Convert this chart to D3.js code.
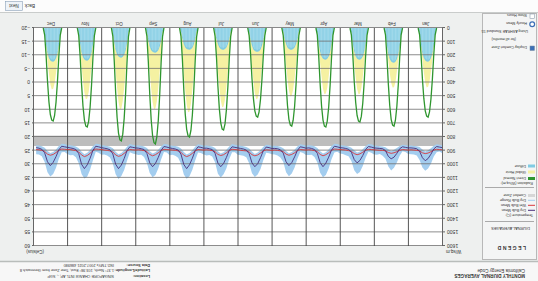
<!DOCTYPE html>
<meta charset="utf-8">
<title>Monthly diurnal averages</title>
<style>
  body { margin: 0; background: #eef0ef; }
  svg { display: block; font-family: "Liberation Sans", Arial, sans-serif; }
</style>
<div id="viz"></div>
<script src="https://cdnjs.cloudflare.com/ajax/libs/d3/7.8.5/d3.min.js"></script>
<script>

var months = ["Jan", "Feb", "Mar", "Apr", "May", "Jun", "Jul", "Aug", "Sep", "Oct", "Nov", "Dec"];

// radiation, W/sq.m, hours 6..17 (zero at 5 and 18)
var radHours = [6, 7, 8, 9, 10, 11, 12, 13, 14, 15, 16, 17];
var diffuse = [
  [37,124,185,222,240,247,245,238,220,183,122,35],
  [38,128,190,230,248,255,253,246,228,190,125,36],
  [35,117,175,210,226,233,231,225,208,173,115,33],
  [35,116,174,209,226,233,232,226,209,174,116,34],
  [24,80,120,144,155,160,159,155,143,119,79,23],
  [26,88,131,157,170,175,174,169,157,130,86,25],
  [24,80,120,144,155,160,159,155,144,120,80,23],
  [24,81,121,145,156,160,158,154,143,119,79,23],
  [27,91,136,164,176,182,180,175,163,136,90,26],
  [33,109,163,196,211,218,216,210,195,162,107,31],
  [36,120,180,216,233,240,238,232,215,179,118,34],
  [37,123,185,222,240,247,245,238,221,184,122,35]
];
var globalHoriz = [
  [40,140,230,320,395,432,436,400,325,235,140,38],
  [42,145,235,322,398,434,436,402,330,238,142,40],
  [45,160,260,360,440,482,487,445,362,262,158,42],
  [44,158,258,358,438,480,487,446,360,260,156,42],
  [46,165,268,370,452,496,502,458,372,268,162,44],
  [48,170,280,385,470,518,523,478,388,280,168,46],
  [52,190,310,430,525,576,582,530,430,312,188,50],
  [55,200,330,455,556,612,618,562,458,332,198,52],
  [54,195,320,440,537,590,596,542,442,320,192,50],
  [54,194,318,438,535,590,596,542,440,320,192,50],
  [48,172,280,385,470,518,523,476,386,280,170,46],
  [42,148,240,330,405,446,451,412,332,240,146,40]
];
var directNormal = [
  [50,196,379,523,615,654,647,608,517,373,190,48],
  [52,216,418,576,677,720,713,670,569,410,209,50],
  [55,207,400,552,649,690,683,642,545,393,200,52],
  [54,218,422,582,683,727,720,676,574,414,211,52],
  [56,216,418,576,677,720,713,670,569,410,209,54],
  [58,196,379,523,615,654,647,608,517,373,190,56],
  [62,225,434,599,704,749,742,697,592,427,217,60],
  [65,240,464,640,752,800,792,744,632,456,232,62],
  [64,255,494,681,800,851,842,791,672,485,247,60],
  [64,249,481,663,779,829,821,771,655,473,240,60],
  [58,218,422,582,683,727,720,676,574,414,211,56],
  [52,205,396,546,642,683,676,635,540,389,198,50]
];

// temperatures, Celsius, hours 1,3,...,23
var tempHours = [1, 3, 5, 7, 9, 11, 13, 15, 17, 19, 21, 23];
var dryBulbMean = [
  [23.9,23.7,23.5,24.4,26.3,27.9,28.7,27.6,25.2,24.3,24.1,24.0],
  [24.0,23.8,23.6,24.3,26.0,27.4,28.0,27.1,25.0,24.3,24.2,24.1],
  [24.0,23.7,23.5,24.6,26.8,28.6,29.5,28.3,25.6,24.5,24.2,24.0],
  [23.9,23.6,23.4,24.8,27.4,29.6,30.9,29.4,26.0,24.6,24.2,24.0],
  [24.1,23.8,23.6,24.9,27.3,29.4,30.5,29.1,25.9,24.7,24.3,24.2],
  [24.2,23.9,23.7,25.0,27.6,29.8,30.9,29.5,26.1,24.8,24.4,24.2],
  [24.0,23.8,23.6,24.9,27.5,29.7,30.9,29.6,26.0,24.6,24.3,24.1],
  [24.1,23.8,23.6,25.0,27.8,30.2,31.6,30.1,26.3,24.8,24.4,24.2],
  [24.0,23.7,23.5,24.9,27.5,29.7,30.9,29.5,26.0,24.6,24.3,24.1],
  [24.0,23.8,23.6,25.0,27.9,30.3,31.6,30.0,26.2,24.7,24.3,24.1],
  [23.9,23.6,23.4,24.9,27.8,30.2,31.6,30.0,26.1,24.6,24.2,24.0],
  [23.8,23.6,23.4,24.7,27.2,29.3,30.5,29.1,25.8,24.5,24.1,23.9]
];
var wetBulbMean = [
  [24.7,24.6,24.5,24.8,25.4,25.9,26.1,25.8,25.1,24.9,24.8,24.7],
  [24.8,24.7,24.6,24.9,25.4,25.8,26.0,25.7,25.1,24.9,24.9,24.8],
  [24.7,24.6,24.5,24.9,25.6,26.2,26.5,26.1,25.3,25.0,24.8,24.7],
  [24.6,24.5,24.4,24.9,25.8,26.5,26.9,26.4,25.4,25.0,24.8,24.7],
  [24.8,24.7,24.6,25.0,25.8,26.4,26.7,26.3,25.4,25.1,24.9,24.8],
  [24.9,24.8,24.7,25.1,25.9,26.6,26.9,26.5,25.5,25.1,25.0,24.9],
  [24.7,24.6,24.5,25.0,25.8,26.5,26.8,26.4,25.4,25.0,24.8,24.7],
  [24.8,24.7,24.6,25.1,26.0,26.8,27.2,26.7,25.6,25.1,24.9,24.8],
  [24.7,24.6,24.5,25.0,25.8,26.5,26.9,26.4,25.4,25.0,24.8,24.7],
  [24.8,24.7,24.6,25.1,26.0,26.8,27.1,26.6,25.5,25.1,24.9,24.8],
  [24.6,24.5,24.4,25.0,26.0,26.8,27.2,26.6,25.5,25.0,24.8,24.6],
  [24.6,24.5,24.4,24.9,25.7,26.4,26.7,26.3,25.3,24.9,24.7,24.6]
];
var rangeLow = [
  [23.1,22.8,22.7,23.2,24.1,24.9,25.3,24.6,23.7,23.4,23.3,23.1],
  [23.2,22.9,22.8,23.3,24.0,24.7,25.1,24.5,23.8,23.5,23.4,23.2],
  [23.0,22.7,22.6,23.4,24.5,25.3,25.7,24.9,23.9,23.5,23.2,23.1],
  [22.9,22.6,22.5,23.3,24.6,25.6,26.1,25.2,24.0,23.4,23.1,23.0],
  [23.1,22.8,22.7,23.5,24.7,25.5,26.0,25.1,24.1,23.6,23.3,23.2],
  [23.2,22.9,22.8,23.6,24.8,25.7,26.2,25.3,24.2,23.7,23.4,23.2],
  [23.0,22.8,22.6,23.5,24.7,25.6,26.1,25.2,24.0,23.5,23.3,23.1],
  [23.1,22.8,22.7,23.6,24.9,25.9,26.4,25.5,24.2,23.6,23.3,23.2],
  [23.0,22.7,22.6,23.5,24.7,25.6,26.1,25.2,24.0,23.5,23.2,23.1],
  [23.0,22.8,22.6,23.6,24.9,25.9,26.3,25.4,24.1,23.6,23.3,23.1],
  [22.9,22.6,22.5,23.4,24.8,25.8,26.3,25.4,24.1,23.5,23.2,23.0],
  [22.9,22.6,22.5,23.3,24.6,25.5,25.9,25.1,23.9,23.4,23.1,23.0]
];
var rangeHigh = [
  [26.0,25.3,25.6,27.2,29.8,31.6,32.4,31.2,28.4,26.8,26.4,26.3],
  [26.2,25.5,25.2,26.9,29.4,31.3,32.3,30.8,28.0,26.9,26.2,26.5],
  [26.4,25.8,25.4,27.6,30.6,32.8,33.6,32.2,28.8,27.1,26.7,26.2],
  [26.1,25.4,25.7,28.2,31.6,33.9,34.8,33.1,29.4,27.3,26.5,26.6],
  [26.6,25.9,25.5,28.0,31.2,33.4,34.4,32.9,29.1,27.5,26.8,26.4],
  [26.3,26.0,25.8,28.4,31.7,33.8,34.7,33.3,29.6,27.4,26.9,26.7],
  [26.5,25.6,25.6,28.1,31.5,33.7,34.9,33.5,29.3,27.2,26.6,26.8],
  [26.4,25.9,25.7,28.6,32.0,34.4,35.3,33.8,29.8,27.6,26.9,26.5],
  [26.7,25.7,25.5,28.3,31.6,33.9,34.8,33.2,29.5,27.3,26.5,26.6],
  [26.3,26.1,25.6,28.7,32.1,34.3,35.4,33.7,29.7,27.5,26.8,26.4],
  [26.5,25.8,25.4,28.5,32.0,34.5,35.2,33.6,29.6,27.4,26.6,26.7],
  [26.2,25.5,25.6,28.0,31.3,33.6,34.5,32.9,29.2,27.1,26.4,26.3]
];
var comfortZone = [19.5, 23.3];

var radTicks = [0,100,200,300,400,500,600,700,800,900,1000,1100,1200,1300,1400,1500,1600];
var tempTicks = [-20,-15,-10,-5,0,5,10,15,20,25,30,35,40,45,50,55,60];

var width = 538, height = 281;
var plot = {left: 95, right: 504, top: 35, bottom: 253};

var svg = d3.select("#viz").append("svg")
    .attr("width", width)
    .attr("height", height);

// the whole screen is shown upside down
var g = svg.append("g").attr("transform", "rotate(180 269 140.5)");

g.append("rect").attr("width", width).attr("height", height).attr("fill", "#eef0ef");
// header strip
g.append("rect").attr("width", width).attr("height", 19).attr("fill", "#f7f7f7");
g.append("line").attr("x1", 0).attr("x2", width).attr("y1", 19.5).attr("y2", 19.5)
  .attr("stroke", "#b9bdbb").attr("stroke-width", 1.5);
// bottom strip
g.append("rect").attr("y", 269).attr("width", width).attr("height", 12).attr("fill", "#fcfcfc");
g.append("line").attr("x1", 0).attr("x2", width).attr("y1", 268.5).attr("y2", 268.5)
  .attr("stroke", "#c9cccb");
// legend panel
g.append("rect").attr("x", 1.5).attr("y", 21.5).attr("width", 54).attr("height", 246)
  .attr("fill", "#f4f5f5").attr("stroke", "#b8b8b8");

var x = d3.scaleLinear().domain([0, 288]).range([plot.left, plot.right]);
var yR = d3.scaleLinear().domain([0, 1600]).range([plot.bottom, plot.top]);
var yT = d3.scaleLinear().domain([-20, 60]).range([plot.bottom, plot.top]);

g.append("rect").attr("x", plot.left).attr("y", plot.top)
  .attr("width", plot.right - plot.left).attr("height", plot.bottom - plot.top)
  .attr("fill", "#fff");

// comfort zone band
g.append("rect").attr("x", plot.left).attr("width", plot.right - plot.left)
  .attr("y", yT(comfortZone[1])).attr("height", yT(comfortZone[0]) - yT(comfortZone[1]))
  .attr("fill", "#bdbdbd");

// radiation
function radPoints(vals, m) {
  var pts = [[m * 24 + 4.5, 0]];
  vals.forEach(function(v, i) { pts.push([m * 24 + radHours[i] - 0.5, v]); });
  pts.push([m * 24 + 17.5, 0]);
  return pts;
}
var area = d3.area().x(function(d) { return x(d[0]); }).y0(yR(0)).y1(function(d) { return yR(d[1]); });
var rline = d3.line().x(function(d) { return x(d[0]); }).y(function(d) { return yR(d[1]); });

months.forEach(function(mo, m) {
  g.append("path").attr("d", area(radPoints(globalHoriz[m], m))).attr("fill", "#f5f1a2");
  g.append("path").attr("d", area(radPoints(diffuse[m], m))).attr("fill", "#80cbe3");
  diffuse[m].forEach(function(v, i) {
    var xx = x(m * 24 + radHours[i] - 0.5);
    g.append("line").attr("x1", xx).attr("x2", xx).attr("y1", yR(0)).attr("y2", yR(v) + 2)
      .attr("stroke", "#c4e8f3").attr("stroke-width", 0.5);
  });
});

// temperature range
var tempPts = [];
months.forEach(function(mo, m) {
  tempHours.forEach(function(h, i) {
    tempPts.push({t: m * 24 + h - 0.5, lo: rangeLow[m][i], hi: rangeHigh[m][i],
                  db: dryBulbMean[m][i], wb: wetBulbMean[m][i]});
  });
});
g.append("path")
  .attr("d", d3.area().x(function(d) { return x(d.t); })
    .y0(function(d) { return yT(d.lo); }).y1(function(d) { return yT(d.hi); })(tempPts))
  .attr("fill", "#a3cdef");

// grid
g.selectAll(".hgrid").data(radTicks).enter().append("line")
  .attr("x1", plot.left).attr("x2", plot.right)
  .attr("y1", function(d) { return yR(d) + 0.5; }).attr("y2", function(d) { return yR(d) + 0.5; })
  .attr("stroke", "#6e6e6e").attr("stroke-width", 0.8);
g.selectAll(".vgrid").data(d3.range(months.length + 1)).enter().append("line")
  .attr("x1", function(d) { return x(d * 24) + 0.5; }).attr("x2", function(d) { return x(d * 24) + 0.5; })
  .attr("y1", plot.top).attr("y2", plot.bottom)
  .attr("stroke", "#444").attr("stroke-width", 0.9);

// direct normal lines
months.forEach(function(mo, m) {
  g.append("path").attr("d", rline(radPoints(directNormal[m], m)))
    .attr("fill", "none").attr("stroke", "#2f962f").attr("stroke-width", 1.3);
});

// temperature lines
g.append("path")
  .attr("d", d3.line().x(function(d) { return x(d.t); }).y(function(d) { return yT(d.wb); })(tempPts))
  .attr("fill", "none").attr("stroke", "#d9383c").attr("stroke-width", 0.9);
g.append("path")
  .attr("d", d3.line().x(function(d) { return x(d.t); }).y(function(d) { return yT(d.db); })(tempPts))
  .attr("fill", "none").attr("stroke", "#4a2f7c").attr("stroke-width", 0.9);

// axes
var axL = g.append("g").attr("transform", "translate(" + plot.left + ",0)")
  .call(d3.axisLeft(yR).tickValues(radTicks).tickFormat(d3.format("d")).tickSize(2).tickPadding(2));
var axR = g.append("g").attr("transform", "translate(" + plot.right + ",0)")
  .call(d3.axisRight(yT).tickValues(tempTicks).tickFormat(d3.format("d")).tickSize(2).tickPadding(2));
[axL, axR].forEach(function(ax) {
  ax.select(".domain").attr("stroke", "#666");
  ax.selectAll("line").attr("stroke", "#666");
  ax.selectAll("text").attr("font-size", 5).attr("fill", "#333");
});
g.append("text").attr("x", 92).attr("y", 31).attr("text-anchor", "end")
  .attr("font-size", 4.5).attr("fill", "#333").text("W/sq.m");
g.append("text").attr("x", 494).attr("y", 31)
  .attr("font-size", 4.5).attr("fill", "#333").text("(Celsius)");

// month labels
g.selectAll(".mlab").data(months).enter().append("text")
  .attr("x", function(d, i) { return x(i * 24 + 12); }).attr("y", 259)
  .attr("text-anchor", "middle").attr("font-size", 4.5).attr("fill", "#333")
  .text(function(d) { return d; });

// header
g.append("text").attr("x", 13).attr("y", 7).attr("font-size", 4.6).attr("font-weight", "bold")
  .attr("fill", "#333").text("MONTHLY DIURNAL AVERAGES");
g.append("text").attr("x", 13).attr("y", 12.5).attr("font-size", 4.6)
  .attr("fill", "#333").text("California Energy Code");
var info = [["Location:", "SINGAPORE CHANGI INTL AP, -, SGP"],
            ["Latitude/Longitude:", "1.37\u00b0 North, 103.98\u00b0 East, Time Zone from Greenwich 8"],
            ["Data Source:", "ISD-TMYx 2007-2021  486980"]];
info.forEach(function(r, i) {
  g.append("text").attr("x", 388).attr("y", 6.5 + i * 5.2).attr("font-size", 3.8)
    .attr("font-weight", "bold").attr("fill", "#333").text(r[0]);
  g.append("text").attr("x", 424).attr("y", 6.5 + i * 5.2).attr("font-size", 3.8)
    .attr("fill", "#333").text(r[1]);
});

// bottom buttons
g.append("text").attr("x", 503).attr("y", 277).attr("font-size", 4.6).attr("fill", "#333").text("Back");
g.append("rect").attr("x", 515.5).attr("y", 270.5).attr("width", 17).attr("height", 9)
  .attr("fill", "#eef3f8").attr("stroke", "#8aa0b8").attr("stroke-width", 0.6);
g.append("text").attr("x", 524).attr("y", 277).attr("text-anchor", "middle")
  .attr("font-size", 4.6).attr("fill", "#333").text("Next");

// legend
g.append("text").attr("x", 12).attr("y", 35).attr("font-size", 5).attr("font-weight", "bold")
  .attr("letter-spacing", 1.5).attr("fill", "#333").text("LEGEND");
g.append("text").attr("x", 8).attr("y", 54).attr("font-size", 3.9).attr("fill", "#333")
  .text("DIURNAL AVERAGES");
[59.5, 93.5].forEach(function(yy) {
  g.append("line").attr("x1", 4).attr("x2", 53).attr("y1", yy).attr("y2", yy).attr("stroke", "#aaa");
});
var legend = [
  {y: 67, label: "Temperature (C):"},
  {y: 72, label: "Dry Bulb Mean", line: "#4a2f7c"},
  {y: 77, label: "Wet Bulb Mean", line: "#d9383c"},
  {y: 82, label: "Dry Bulb Range", line: "#a3cdef"},
  {y: 87, label: "Comfort Zone", box: "#d6d6d6"},
  {y: 99, label: "Radiation (W/sq.m):"},
  {y: 104, label: "Direct Normal", box: "#2f962f"},
  {y: 110.5, label: "Global Horiz", box: "#f5f1a2"},
  {y: 116.5, label: "Diffuse", box: "#80cbe3"}
];
legend.forEach(function(d) {
  if (d.line) {
    g.append("line").attr("x1", 3).attr("x2", 10).attr("y1", d.y - 1.3).attr("y2", d.y - 1.3)
      .attr("stroke", d.line).attr("stroke-width", 1);
  }
  if (d.box) {
    g.append("rect").attr("x", 3).attr("y", d.y - 3).attr("width", 7).attr("height", 3)
      .attr("fill", d.box);
  }
  g.append("text").attr("x", d.line || d.box ? 12 : 5).attr("y", d.y).attr("font-size", 3.7)
    .attr("fill", "#333").text(d.label);
});

var opts = [
  {y: 235, label: "Display Comfort Zone", check: true},
  {y: 243, label: "(for all months)", indent: 22},
  {y: 251, label: "Using ASHRAE Standard 55", indent: 10},
  {y: 259, label: "Hourly Mean", radio: true},
  {y: 267, label: "Show Hours", check: false}
];
opts.forEach(function(d) {
  if (d.check !== undefined) {
    g.append("rect").attr("x", 3.5).attr("y", d.y - 4.5).attr("width", 4.5).attr("height", 4.5)
      .attr("fill", d.check ? "#3b6fb6" : "#fff").attr("stroke", "#7a8aa0").attr("stroke-width", 0.5);
  }
  if (d.radio) {
    g.append("circle").attr("cx", 5.8).attr("cy", d.y - 2.2).attr("r", 2.4)
      .attr("fill", "#fff").attr("stroke", "#3b6fb6").attr("stroke-width", 1.2);
  }
  g.append("text").attr("x", d.indent || 11).attr("y", d.y).attr("font-size", 3.7)
    .attr("fill", "#333").text(d.label);
});

</script>
